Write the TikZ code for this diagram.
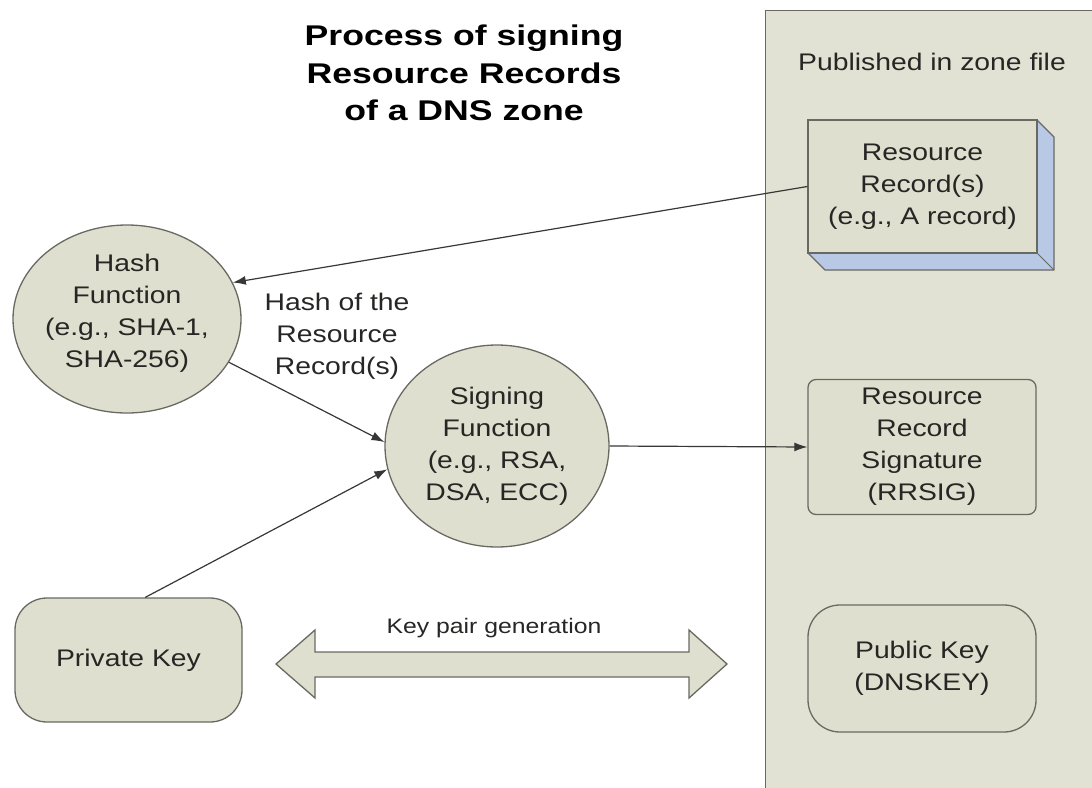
\documentclass[tikz,border=0pt]{standalone}
\usepackage{fontspec}
\setmainfont{Liberation Sans}[FakeStretch=1.18]
\newfontfamily\headfont{Liberation Sans}[FakeStretch=1.25]
\usetikzlibrary{arrows.meta,shapes.geometric}

\definecolor{paper}{RGB}{223,223,207}
\definecolor{zonefill}{RGB}{226,226,212}
\definecolor{edge}{RGB}{105,105,98}
\definecolor{ink}{RGB}{38,38,36}
\definecolor{sideblue}{RGB}{183,201,228}
\definecolor{wire}{RGB}{55,55,53}

\tikzset{
  body/.style={font=\fontsize{24}{32}\selectfont, text=ink, align=center},
  bubble/.style={body, ellipse, draw=edge, line width=1.3pt, fill=paper, inner sep=0pt},
  plainbox/.style={body, rectangle, draw=edge, line width=1.3pt, fill=paper, inner sep=0pt},
  roundbox/.style={plainbox, rounded corners=#1},
  conn/.style={draw=wire, line width=1.2pt, -{Latex[length=13pt,width=9pt]}},
}

\begin{document}
\begin{tikzpicture}[x=1pt,y=-1pt]
\useasboundingbox (0,0) rectangle (1092,787);

% zone file panel
\node[rectangle, draw=edge, line width=1.3pt, fill=zonefill, minimum width=340pt,
      minimum height=790pt, anchor=north west, inner sep=0pt] (zone) at (765,10) {};
\node[body] (zonelabel) at (932,62) {Published in zone file};

% title
\node[font=\headfont\bfseries\fontsize{28.5}{37.5}\selectfont, text=black, align=center]
  (title) at (464,73) {Process of signing\\Resource Records\\of a DNS zone};

% resource record box with its 3D faces
\coordinate (rrA) at (1037,120);
\coordinate (rrB) at (1054,137);
\coordinate (rrC) at (1054,270);
\coordinate (rrD) at (825,270);
\coordinate (rrE) at (808,253);
\coordinate (rrF) at (1037,253);
\filldraw[fill=sideblue, draw=edge, line width=1.3pt, line join=round]
  (rrA) -- (rrB) -- (rrC) -- (rrD) -- (rrE) -- (rrF) -- cycle;
\draw[edge, line width=1pt] (rrF) -- (rrC);
\node[plainbox, minimum width=229pt, minimum height=133pt] (rr) at (922.5,186.5)
  {Resource\\Record(s)\\(e.g., A record)};

% signature and public key boxes
\node[roundbox=8pt, minimum width=228pt, minimum height=135pt] (rrsig) at (922,447)
  {Resource\\Record\\Signature\\(RRSIG)};
\node[roundbox=32pt, minimum width=228pt, minimum height=127pt] (pub) at (922,668.5)
  {Public Key\\(DNSKEY)};

% functions
\node[bubble, minimum width=228pt, minimum height=188pt] (hash) at (127,319) {};
\node[body] (hashtext) at (127,313) {Hash\\Function\\(e.g., SHA-1,\\SHA-256)};
\node[bubble, minimum width=224pt, minimum height=202pt] (sign) at (497,446)
  {Signing\\Function\\(e.g., RSA,\\DSA, ECC)};

% private key
\node[roundbox=32pt, minimum width=227pt, minimum height=124pt] (priv) at (128.5,660)
  {Private Key};

% label on the hash connector
\node[body] (hashlabel) at (337,336) {Hash of the\\Resource\\Record(s)};

% key pair arrow
\coordinate (kl) at (276,664);
\coordinate (kr) at (727,664);
\filldraw[fill=paper, draw=edge, line width=1.3pt, line join=miter]
  (kl) -- (315,630) -- (315,652) -- (689,652) -- (689,630) -- (kr)
  -- (689,698) -- (689,677) -- (315,677) -- (315,698) -- cycle;
\node[font=\fontsize{21}{26}\selectfont, text=ink] (keylabel) at (494,628) {Key pair generation};

% connectors
\draw[conn] (rr.west) -- (hash.19);
\draw[conn] (hash.-23) -- (sign.178);
\draw[conn] (priv.75) -- (sign.192);
\draw[conn] (sign.east) -- (rrsig.west);
\end{tikzpicture}
\end{document}
